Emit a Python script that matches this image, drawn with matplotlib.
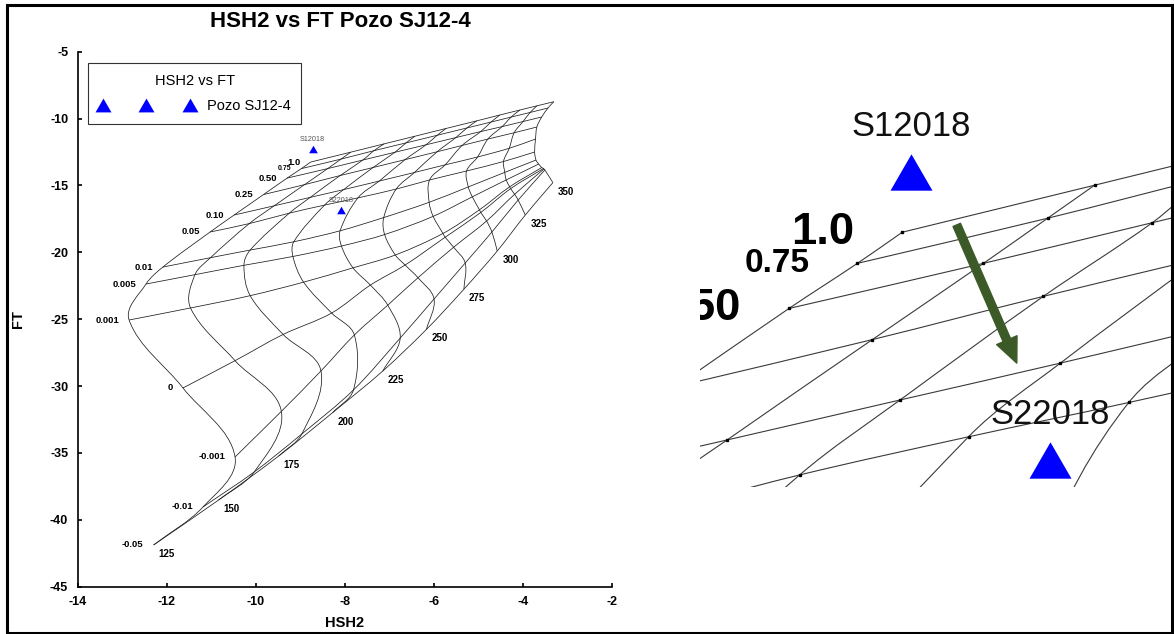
import numpy as np
import matplotlib
matplotlib.use('Agg')
import matplotlib.pyplot as plt
from matplotlib.path import Path
from matplotlib.patches import PathPatch, Rectangle, FancyArrowPatch
from matplotlib.lines import Line2D

plt.rcParams['font.family'] = ['Liberation Sans', 'DejaVu Sans']
plt.rcParams['axes.unicode_minus'] = False

# isotherms (rows) x steam fraction (columns) of the FT-HSH2 grid
TEMPS = [125, 150, 175, 200, 225, 250, 275, 300, 325, 350]
STEAM = ['-0.05', '-0.01', '-0.001', '0', '0.001', '0.005', '0.01',
         '0.05', '0.10', '0.25', '0.50', '0.75', '1.0']

HSH2 = np.array([
    [-12.30, -11.19, -10.47, -11.64, -12.85, -12.47, -12.09, -11.03, -10.49, -9.83, -9.30, -8.98, -8.77],
    [-10.84, -10.04, -9.43, -10.47, -11.47, -11.37, -11.02, -10.15, -9.59, -8.91, -8.39, -8.09, -7.87],
    [-9.49, -8.97, -8.54, -9.39, -10.13, -10.27, -10.13, -9.25, -8.78, -8.11, -7.60, -7.35, -7.12],
    [-8.28, -7.81, -7.79, -8.30, -8.93, -9.17, -9.15, -8.46, -8.03, -7.37, -6.88, -6.63, -6.43],
    [-7.15, -6.76, -7.04, -7.43, -7.82, -8.08, -8.11, -7.71, -7.23, -6.65, -6.18, -5.93, -5.73],
    [-6.17, -6.00, -6.36, -6.65, -6.87, -7.11, -7.13, -6.85, -6.44, -5.93, -5.51, -5.26, -5.04],
    [-5.33, -5.30, -5.56, -5.75, -5.80, -6.02, -6.11, -6.10, -5.75, -5.37, -4.95, -4.72, -4.52],
    [-4.58, -4.70, -4.82, -4.95, -4.98, -5.14, -5.23, -5.27, -5.02, -4.79, -4.47, -4.27, -4.07],
    [-3.95, -4.11, -4.19, -4.28, -4.30, -4.38, -4.41, -4.44, -4.31, -4.20, -4.00, -3.84, -3.69],
    [-3.33, -3.51, -3.53, -3.54, -3.58, -3.65, -3.71, -3.74, -3.72, -3.69, -3.58, -3.44, -3.31],
])
FT = np.array([
    [-41.88, -39.04, -35.30, -30.14, -25.06, -22.37, -21.10, -18.48, -17.21, -15.68, -14.45, -13.74, -13.25],
    [-38.52, -36.42, -31.89, -28.10, -24.16, -21.67, -20.40, -17.85, -16.52, -14.94, -13.74, -13.03, -12.51],
    [-35.23, -33.58, -28.87, -26.14, -23.24, -20.97, -19.83, -17.07, -15.89, -14.26, -13.10, -12.40, -11.89],
    [-31.99, -30.29, -26.18, -24.54, -22.23, -20.31, -19.21, -16.47, -15.31, -13.66, -12.52, -11.82, -11.32],
    [-28.87, -26.41, -23.95, -22.45, -21.16, -19.53, -18.39, -15.93, -14.67, -13.07, -11.96, -11.25, -10.74],
    [-25.76, -23.49, -21.90, -20.95, -20.20, -18.67, -17.40, -15.27, -14.03, -12.48, -11.42, -10.70, -10.17],
    [-22.76, -20.80, -19.62, -18.87, -18.59, -17.31, -16.26, -14.59, -13.46, -12.01, -10.97, -10.26, -9.73],
    [-19.90, -18.48, -17.66, -17.02, -16.82, -15.85, -15.11, -13.92, -12.87, -11.53, -10.60, -9.89, -9.36],
    [-17.21, -16.09, -15.66, -15.24, -15.10, -14.59, -14.02, -13.21, -12.22, -11.06, -10.22, -9.54, -9.05],
    [-14.79, -13.84, -13.77, -13.73, -13.66, -13.40, -13.10, -12.50, -11.53, -10.63, -9.88, -9.21, -8.74],
])

# well samples
SAMPLES = ['S12018', 'S22018']
SAMPLE_HSH2 = [-8.73, -8.08]
SAMPLE_FT = [-12.31, -16.84]

W, H = 1174, 634
BLUE = '#0000ff'
# equilateral triangle marker
TRI = Path([(-1, -0.866), (1, -0.866), (0, 0.866), (-1, -0.866)],
           [Path.MOVETO, Path.LINETO, Path.LINETO, Path.CLOSEPOLY])


def smooth_path(ax, xs, ys):
    """Smooth curve through the nodes (tangents taken in screen space)."""
    pts = ax.transData.transform(np.column_stack([xs, ys]))
    n = len(pts)
    tang = np.zeros_like(pts)
    for i in range(n):
        d = pts[min(i + 1, n - 1)] - pts[max(i - 1, 0)]
        tang[i] = d / (np.hypot(*d) or 1.0)
    verts = [pts[0]]
    codes = [Path.MOVETO]
    for i in range(n - 1):
        seg = np.hypot(*(pts[i + 1] - pts[i]))
        verts += [pts[i] + tang[i] * seg / 3, pts[i + 1] - tang[i + 1] * seg / 3, pts[i + 1]]
        codes += [Path.CURVE4] * 3
    verts = ax.transData.inverted().transform(np.array(verts))
    return Path(verts, codes)


def draw_grid(ax, lw, color):
    for j in range(len(TEMPS)):
        ax.add_patch(PathPatch(smooth_path(ax, HSH2[j], FT[j]), fill=False, lw=lw, ec=color))
    for i in range(len(STEAM)):
        ax.add_patch(PathPatch(smooth_path(ax, HSH2[:, i], FT[:, i]), fill=False, lw=lw, ec=color))


def draw_labels(ax, scale, sample_color):
    for i, s in enumerate(STEAM):
        size = 5.0 if s == '0.75' else 6.8
        ax.annotate(s, (HSH2[0, i], FT[0, i]), xytext=(-10 * scale, 0), textcoords='offset pixels',
                    ha='right', va='center', fontsize=size * scale, fontweight='bold', clip_on=True)
    for j, t in enumerate(TEMPS):
        ax.annotate(str(t), (HSH2[j, 0], FT[j, 0]), xytext=(5 * scale, -9 * scale),
                    textcoords='offset pixels', ha='left', va='center',
                    fontsize=7 * scale, fontweight='bold', clip_on=True)
    ax.plot(SAMPLE_HSH2, SAMPLE_FT, ls='none', marker=TRI, ms=6.3 * scale, color=BLUE, mew=0, zorder=4)
    for name, x, y in zip(SAMPLES, SAMPLE_HSH2, SAMPLE_FT):
        ax.annotate(name, (x, y), xytext=(0, 9.5 * scale), textcoords='offset pixels',
                    ha='center', va='center', fontsize=5.2 * scale, color=sample_color, clip_on=True)


fig = plt.figure(figsize=(W / 100, H / 100), dpi=100)

# main diagram
ax = fig.add_axes([77.9 / W, 1 - 586.7 / H, 534.2 / W, 535 / H])
ax.set_xlim(-14, -2)
ax.set_ylim(-45, -5)
ax.set_xticks(np.arange(-14, -1, 2))
ax.set_yticks(np.arange(-45, -4, 5))
for side in ['top', 'right']:
    ax.spines[side].set_visible(False)
for side in ['left', 'bottom']:
    ax.spines[side].set_linewidth(1.2)
ax.tick_params(direction='in', length=3, width=1.2, pad=7, labelsize=9)
for lab in ax.get_xticklabels() + ax.get_yticklabels():
    lab.set_fontweight('bold')
ax.set_xlabel('HSH2', fontsize=10.5, fontweight='bold', va='center')
ax.xaxis.set_label_coords(0.5, -0.068)
ax.set_ylabel('FT', fontsize=10.5, fontweight='bold', va='center')
ax.yaxis.set_label_coords(-0.112, 0.5)

draw_grid(ax, 0.55, '#1e1e1e')
draw_labels(ax, 1.0, '#555555')

handle = Line2D([], [], ls='none', marker=TRI, ms=11.5, color=BLUE, mew=0)
leg = ax.legend([handle], ['Pozo SJ12-4'], title='HSH2 vs FT', loc='upper left',
                bbox_to_anchor=(0.0185, 0.978), borderaxespad=0, numpoints=3,
                handlelength=6.55, handletextpad=0.86, borderpad=0.75, labelspacing=0.7,
                fontsize=10.5, title_fontsize=10.5, fancybox=False, framealpha=1,
                edgecolor='#333333')
leg.get_frame().set_linewidth(0.8)

fig.text(340 / W, 1 - 21.7 / H, 'HSH2 vs FT Pozo SJ12-4', ha='center', va='center',
         fontsize=16, fontweight='bold')

# enlarged view around the two samples
axr = fig.add_axes([700 / W, 1 - 487 / H, 474 / W, 387 / H])
axr.set_xlim(-9.7165, -7.4984)
axr.set_ylim(-17.26, -11.169)
axr.axis('off')
draw_grid(axr, 0.8, '#3a3a3a')
axr.plot(HSH2.ravel(), FT.ravel(), ls='none', marker='s', ms=1.5, color='black')
draw_labels(axr, 4.8, '#111111')
axr.add_patch(FancyArrowPatch((-8.515, -13.135), (-8.234, -15.31),
                              arrowstyle='simple,head_length=0.9,head_width=0.8,tail_width=0.29',
                              mutation_scale=20, color='#3c5a28', shrinkA=0, shrinkB=0, zorder=5))

# outer frame
fig.add_artist(Rectangle((7 / W, 1.2 / H), 1164.5 / W, 627.8 / H, transform=fig.transFigure,
                         fill=False, lw=2.2, ec='black'))

fig.savefig('out.png', dpi=100)
